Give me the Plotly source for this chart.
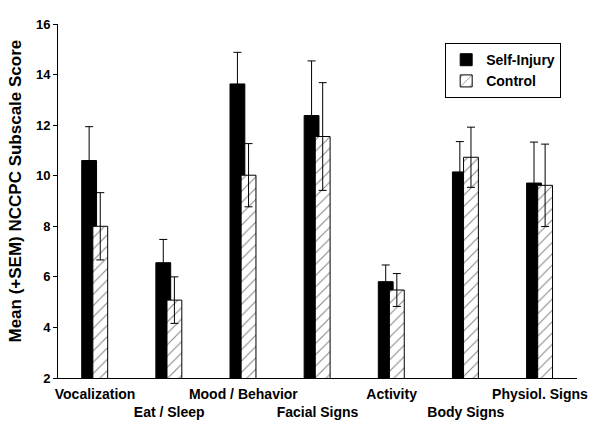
import plotly.graph_objects as go

categories = ["Vocalization", "Eat / Sleep", "Mood / Behavior", "Facial Signs",
              "Activity", "Body Signs", "Physiol. Signs"]
self_injury = [10.6, 6.56, 13.63, 12.38, 5.81, 10.15, 9.71]
self_injury_sem = [1.34, 0.92, 1.25, 2.16, 0.66, 1.20, 1.62]
control = [8.0, 5.08, 10.02, 11.55, 5.48, 10.73, 9.62]
control_sem = [1.33, 0.92, 1.25, 2.13, 0.65, 1.19, 1.63]
y_ticks = [2, 4, 6, 8, 10, 12, 14, 16]

FONT = "Liberation Sans, Arial, sans-serif"
xpos = list(range(len(categories)))
tick_text = [c if i % 2 == 0 else "<br>" + c for i, c in enumerate(categories)]

fig = go.Figure()
fig.add_trace(go.Bar(
    x=xpos, y=self_injury, name="Self-Injury",
    width=0.2, offset=-0.18,
    marker=dict(color="black", line=dict(color="black", width=1)),
    error_y=dict(type="data", array=self_injury_sem, visible=True,
                 color="black", thickness=1, width=4),
))
fig.add_trace(go.Bar(
    x=xpos, y=control, name="Control",
    width=0.2, offset=-0.03,
    marker=dict(color="white", line=dict(color="black", width=1),
                pattern=dict(shape="/", fgcolor="black", bgcolor="white",
                             size=8, solidity=0.12)),
    error_y=dict(type="data", array=control_sem, visible=True,
                 color="black", thickness=1, width=4),
))

fig.update_layout(
    width=600, height=432,
    margin=dict(l=58, r=18, t=24, b=53),
    paper_bgcolor="white", plot_bgcolor="white",
    barmode="overlay",
    font=dict(family=FONT, color="black", size=14, weight="bold"),
    showlegend=True,
    legend=dict(x=0.746, y=0.946, xanchor="left", yanchor="top",
                bordercolor="black", borderwidth=1, bgcolor="white",
                font=dict(family=FONT, size=14, color="black", weight="bold"),
                tracegroupgap=0),
    xaxis=dict(range=[-0.5, len(categories) - 0.5], tickmode="array",
               tickvals=xpos, ticktext=tick_text, showline=True,
               linecolor="black", linewidth=1, ticks="", showgrid=False,
               zeroline=False, tickangle=0, ticklabelstandoff=3,
               tickfont=dict(family=FONT, size=14, color="black", weight="bold")),
    yaxis=dict(range=[2, 16], tickmode="array", tickvals=y_ticks,
               showline=True, linecolor="black", linewidth=1,
               ticks="outside", ticklen=4, tickcolor="black",
               showgrid=False, zeroline=False,
               tickfont=dict(family=FONT, size=13, color="black", weight="bold")),
    annotations=[dict(
        text="Mean (+SEM) NCCPC Subscale Score", textangle=-90,
        xref="paper", yref="paper", x=-0.082, y=0.528,
        xanchor="center", yanchor="middle", showarrow=False,
        font=dict(family=FONT, size=17, color="black", weight="bold"))],
)

fig.write_html("out.html", config={"displayModeBar": False},
               post_script="document.body.style.margin='0';")
